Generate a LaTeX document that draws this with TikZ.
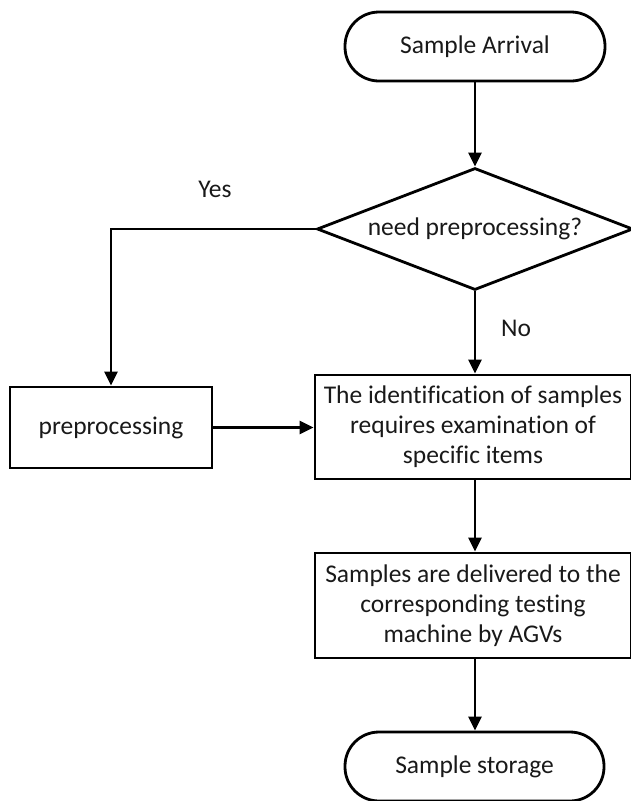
\documentclass[tikz,border=0pt]{standalone}
\usepackage{fontspec}
\setmainfont{Carlito}[Ligatures=NoCommon]
\usetikzlibrary{arrows.meta,shapes.geometric}
\begin{document}
\begin{tikzpicture}[x=1pt,y=-1pt,
  every node/.style={font=\fontsize{25.5}{30}\selectfont, text=black!90},
  terminal/.style={draw, line width=2.8pt, rounded corners=34pt, minimum width=260pt, minimum height=69pt, inner sep=0pt},
  procbox/.style={draw, line width=2.8pt, inner sep=0pt, align=center, minimum width=316pt, minimum height=104pt},
  decision/.style={draw, diamond, line width=2.8pt, inner sep=0pt, minimum width=316pt, minimum height=122pt, aspect=2.6},
  flow/.style={line width=2.8pt, -{Triangle[length=14pt,width=13pt]}},
  lbl/.style={inner sep=0pt}]
\useasboundingbox (0,0) rectangle (631,801);
\node[terminal] (start) at (475,46.5) {Sample Arrival};
\node[decision] (dec) at (475,229) {need preprocessing?};
\node[procbox] (ident) at (473,427) {The identification of samples\\requires examination of\\specific items};
\node[procbox, minimum width=202pt, minimum height=81pt] (pre) at (111,427.5) {preprocessing};
\node[procbox, minimum height=105pt] (deliv) at (473,605.5) {Samples are delivered to the\\corresponding testing\\machine by AGVs};
\node[terminal, minimum width=259pt] (stop) at (474.5,766.5) {Sample storage};
\node[lbl] (yes) at (215,189) {Yes};
\node[lbl] (no) at (516,328) {No};
\draw[flow] (start.south) -- (dec.north);
\draw[flow] (dec.west) -| (pre.north);
\draw[flow] (dec.south) -- (dec.south |- ident.north);
\draw[flow] (pre.east) -- (pre.east -| ident.west);
\draw[flow] (dec.south |- ident.south) -- (dec.south |- deliv.north);
\draw[flow] (dec.south |- deliv.south) -- (dec.south |- stop.north);
\end{tikzpicture}
\end{document}
